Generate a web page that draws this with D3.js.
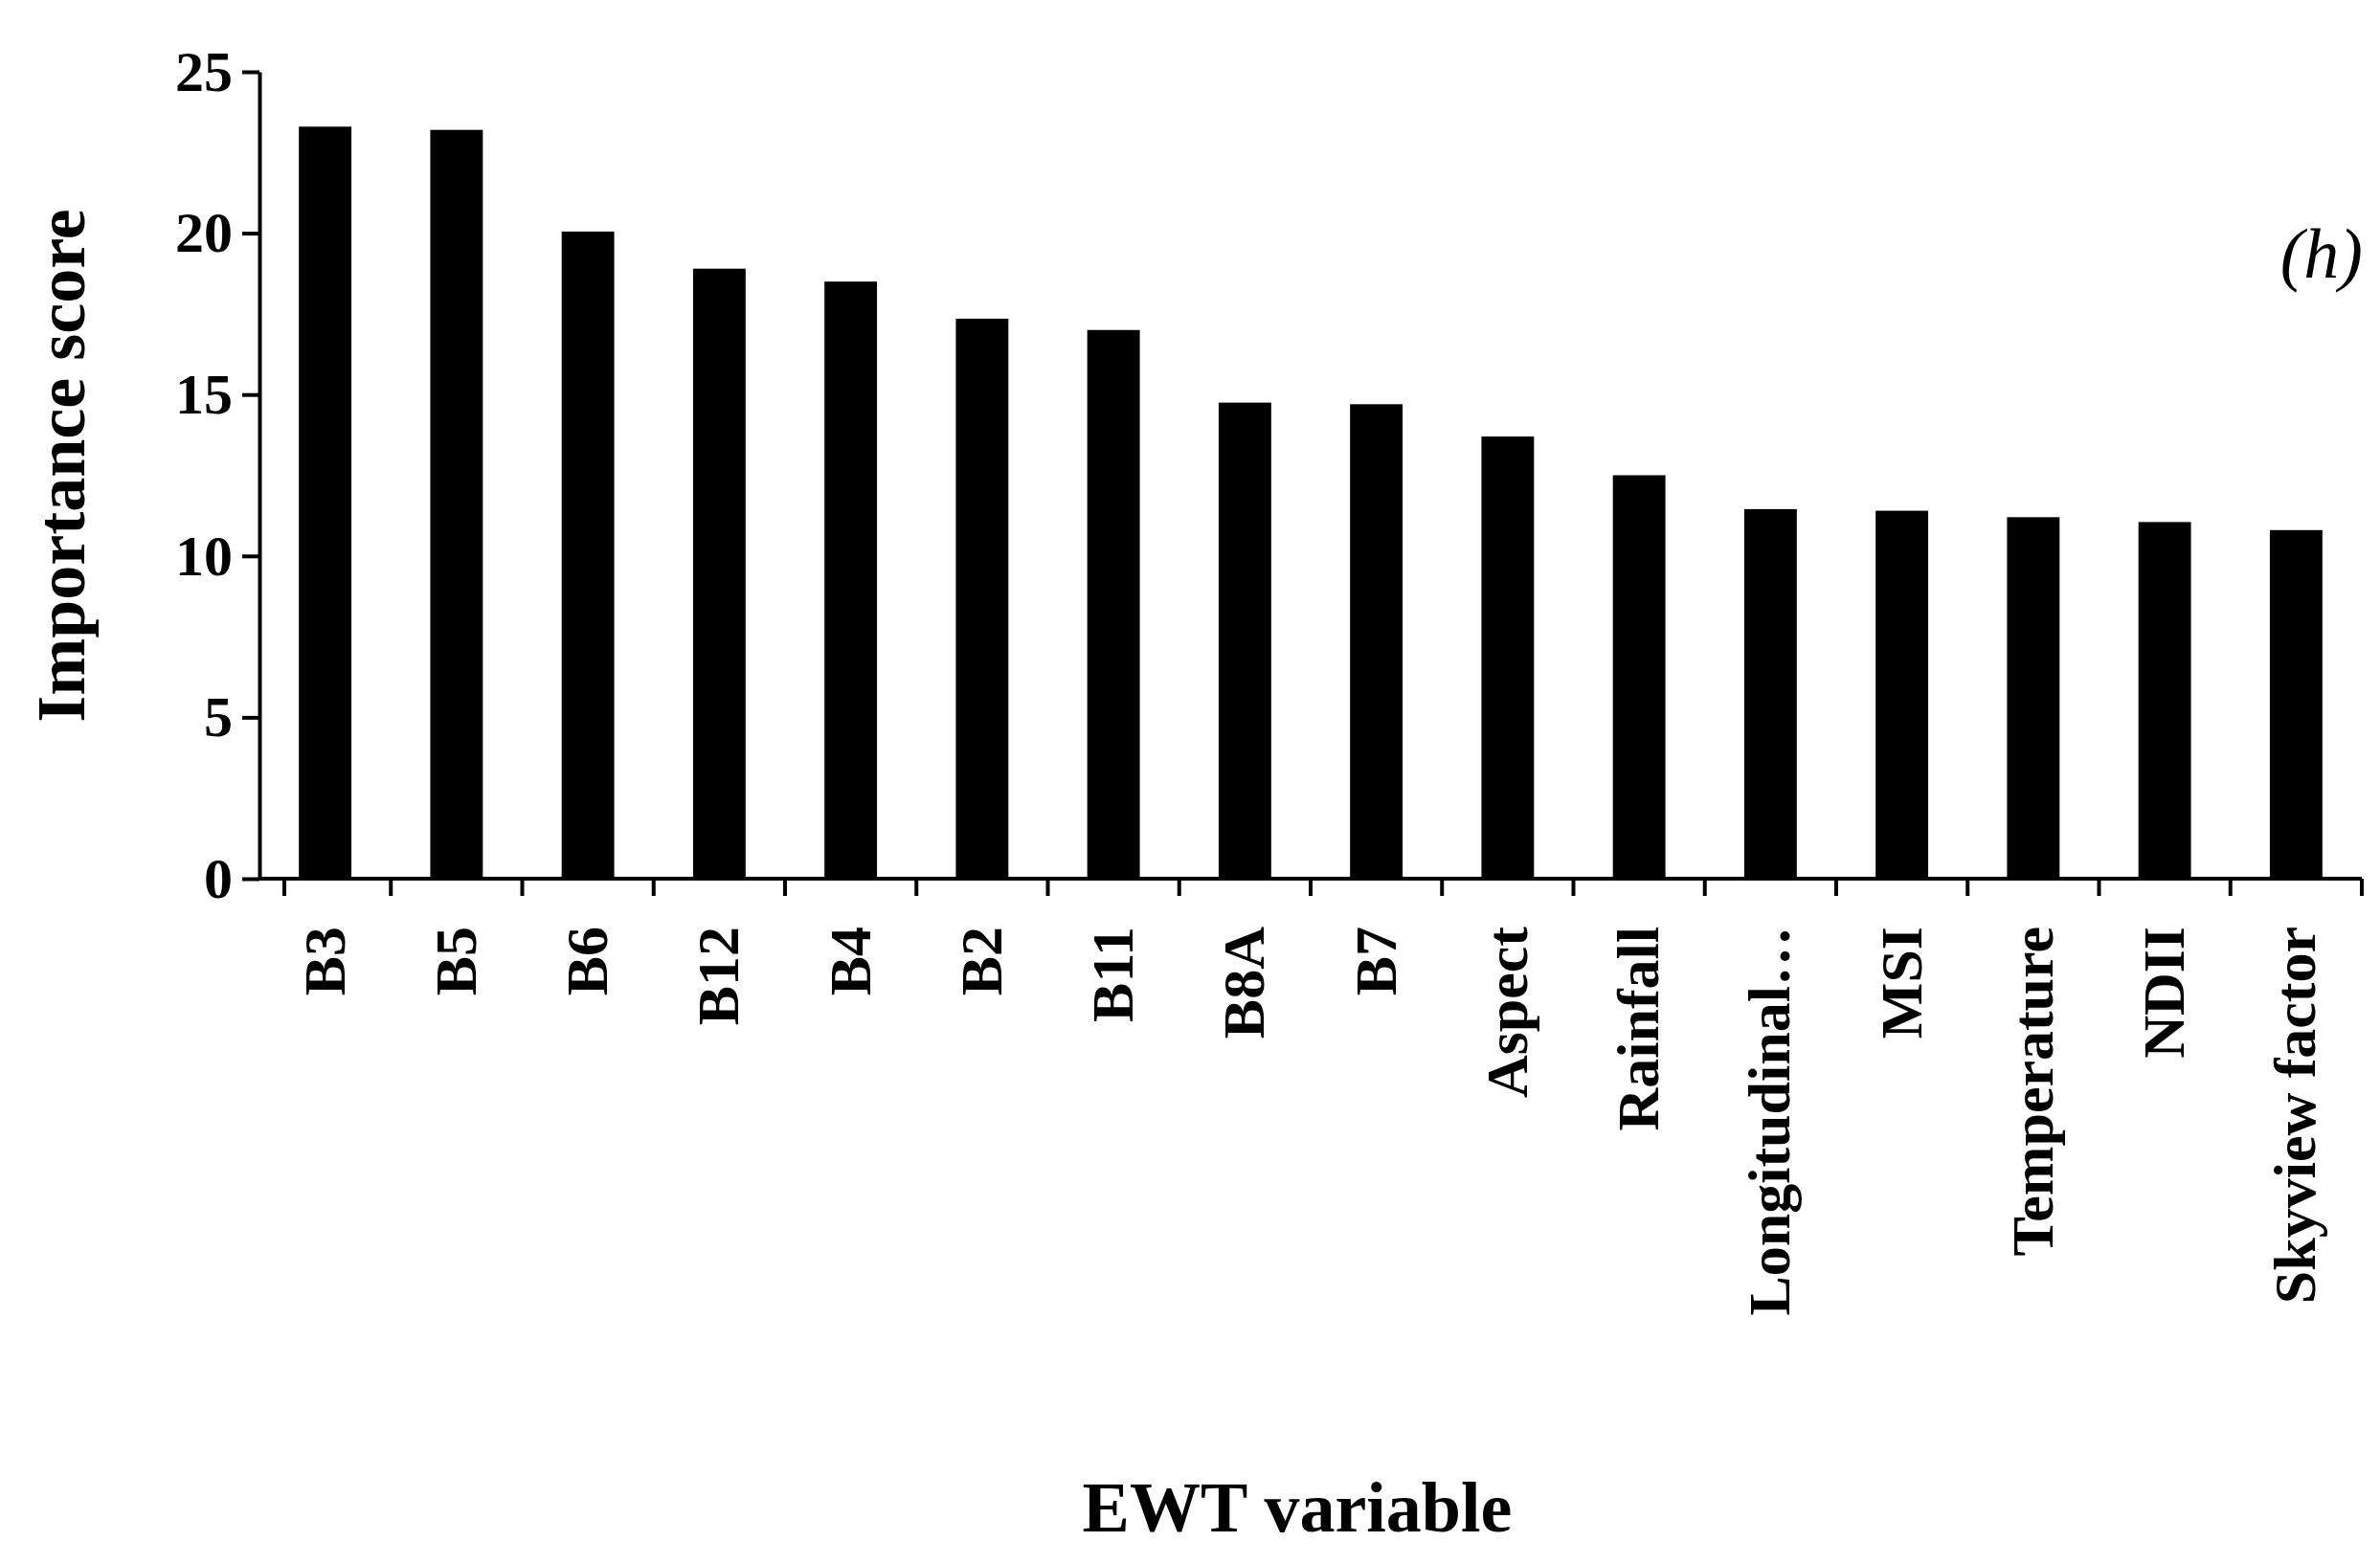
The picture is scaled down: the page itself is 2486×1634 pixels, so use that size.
<!DOCTYPE html>
<html><head><meta charset="utf-8">
<script src="https://cdn.jsdelivr.net/npm/d3@7"></script>
<style>body{margin:0;background:#fff}</style></head>
<body><svg id="c" width="2486" height="1634"></svg>
<script>
const categories = ['B3','B5','B6','B12','B4','B2','B11','B8A','B7','Aspect','Rainfall','Longitudinal…','MSI','Temperature','NDII','Skyview factor'];
const scores = [23.3, 23.2, 20.05, 18.9, 18.5, 17.35, 17.0, 14.75, 14.7, 13.7, 12.5, 11.45, 11.4, 11.2, 11.05, 10.8];
const yTicks = [0, 5, 10, 15, 20, 25];

const font = '"Liberation Serif", "DejaVu Serif", serif';
const m = {left: 271, top: 75, right: 2467, bottom: 918};
const svg = d3.select('#c');

const x = d3.scaleBand().domain(categories).range([m.left, m.right]).paddingInner(0.6).paddingOuter(0.3);
const xb = d3.scaleBand().domain(categories).range([m.left, m.right]);
const y = d3.scaleLinear().domain([0, 25]).range([m.bottom, m.top]);

svg.append('g').selectAll('rect').data(scores).join('rect')
  .attr('x', (d, i) => x(categories[i]))
  .attr('width', x.bandwidth())
  .attr('y', d => y(d))
  .attr('height', d => y(0) - y(d))
  .attr('fill', '#000');

const ya = svg.append('g').attr('transform', `translate(${m.left},0)`)
  .call(d3.axisLeft(y).tickValues(yTicks).tickSize(18).tickSizeOuter(0).tickPadding(10));
ya.selectAll('text').attr('font-family', font).attr('font-weight', 'bold').attr('font-size', 60).attr('fill', '#000');
ya.selectAll('line,path').attr('stroke', '#000').attr('stroke-width', 4);

// x axis line and ticks at band boundaries
const xa = svg.append('g');
xa.append('line').attr('x1', m.left).attr('x2', m.right).attr('y1', m.bottom).attr('y2', m.bottom)
  .attr('stroke', '#000').attr('stroke-width', 4);
xa.selectAll('line.t').data(categories.concat(['end'])).join('line').attr('class', 't')
  .attr('x1', (d, i) => i < categories.length ? xb(d) + (i === 0 ? 26 : 0) : m.right)
  .attr('x2', (d, i) => i < categories.length ? xb(d) + (i === 0 ? 26 : 0) : m.right)
  .attr('y1', m.bottom).attr('y2', m.bottom + 18).attr('stroke', '#000').attr('stroke-width', 4);

svg.append('g').selectAll('text').data(categories).join('text')
  .attr('transform', d => `translate(${x(d) + x.bandwidth() / 2 + 20},${m.bottom + 50}) rotate(-90)`)
  .attr('text-anchor', 'end')
  .attr('font-family', font).attr('font-weight', 'bold').attr('font-size', 62)
  .text(d => d);

svg.append('text')
  .attr('transform', `translate(88,${(m.top + m.bottom) / 2 - 10}) rotate(-90)`)
  .attr('text-anchor', 'middle').attr('font-family', font).attr('font-weight', 'bold').attr('font-size', 72)
  .text('Importance score');

svg.append('text').attr('x', (m.left + m.right) / 2 - 14).attr('y', 1600)
  .attr('text-anchor', 'middle').attr('font-family', font).attr('font-weight', 'bold').attr('font-size', 74)
  .text('EWT variable');

svg.append('text').attr('x', 2468).attr('y', 290).attr('text-anchor', 'end')
  .attr('font-family', font).attr('font-style', 'italic').attr('font-size', 74).text('(h)');
</script></body></html>
